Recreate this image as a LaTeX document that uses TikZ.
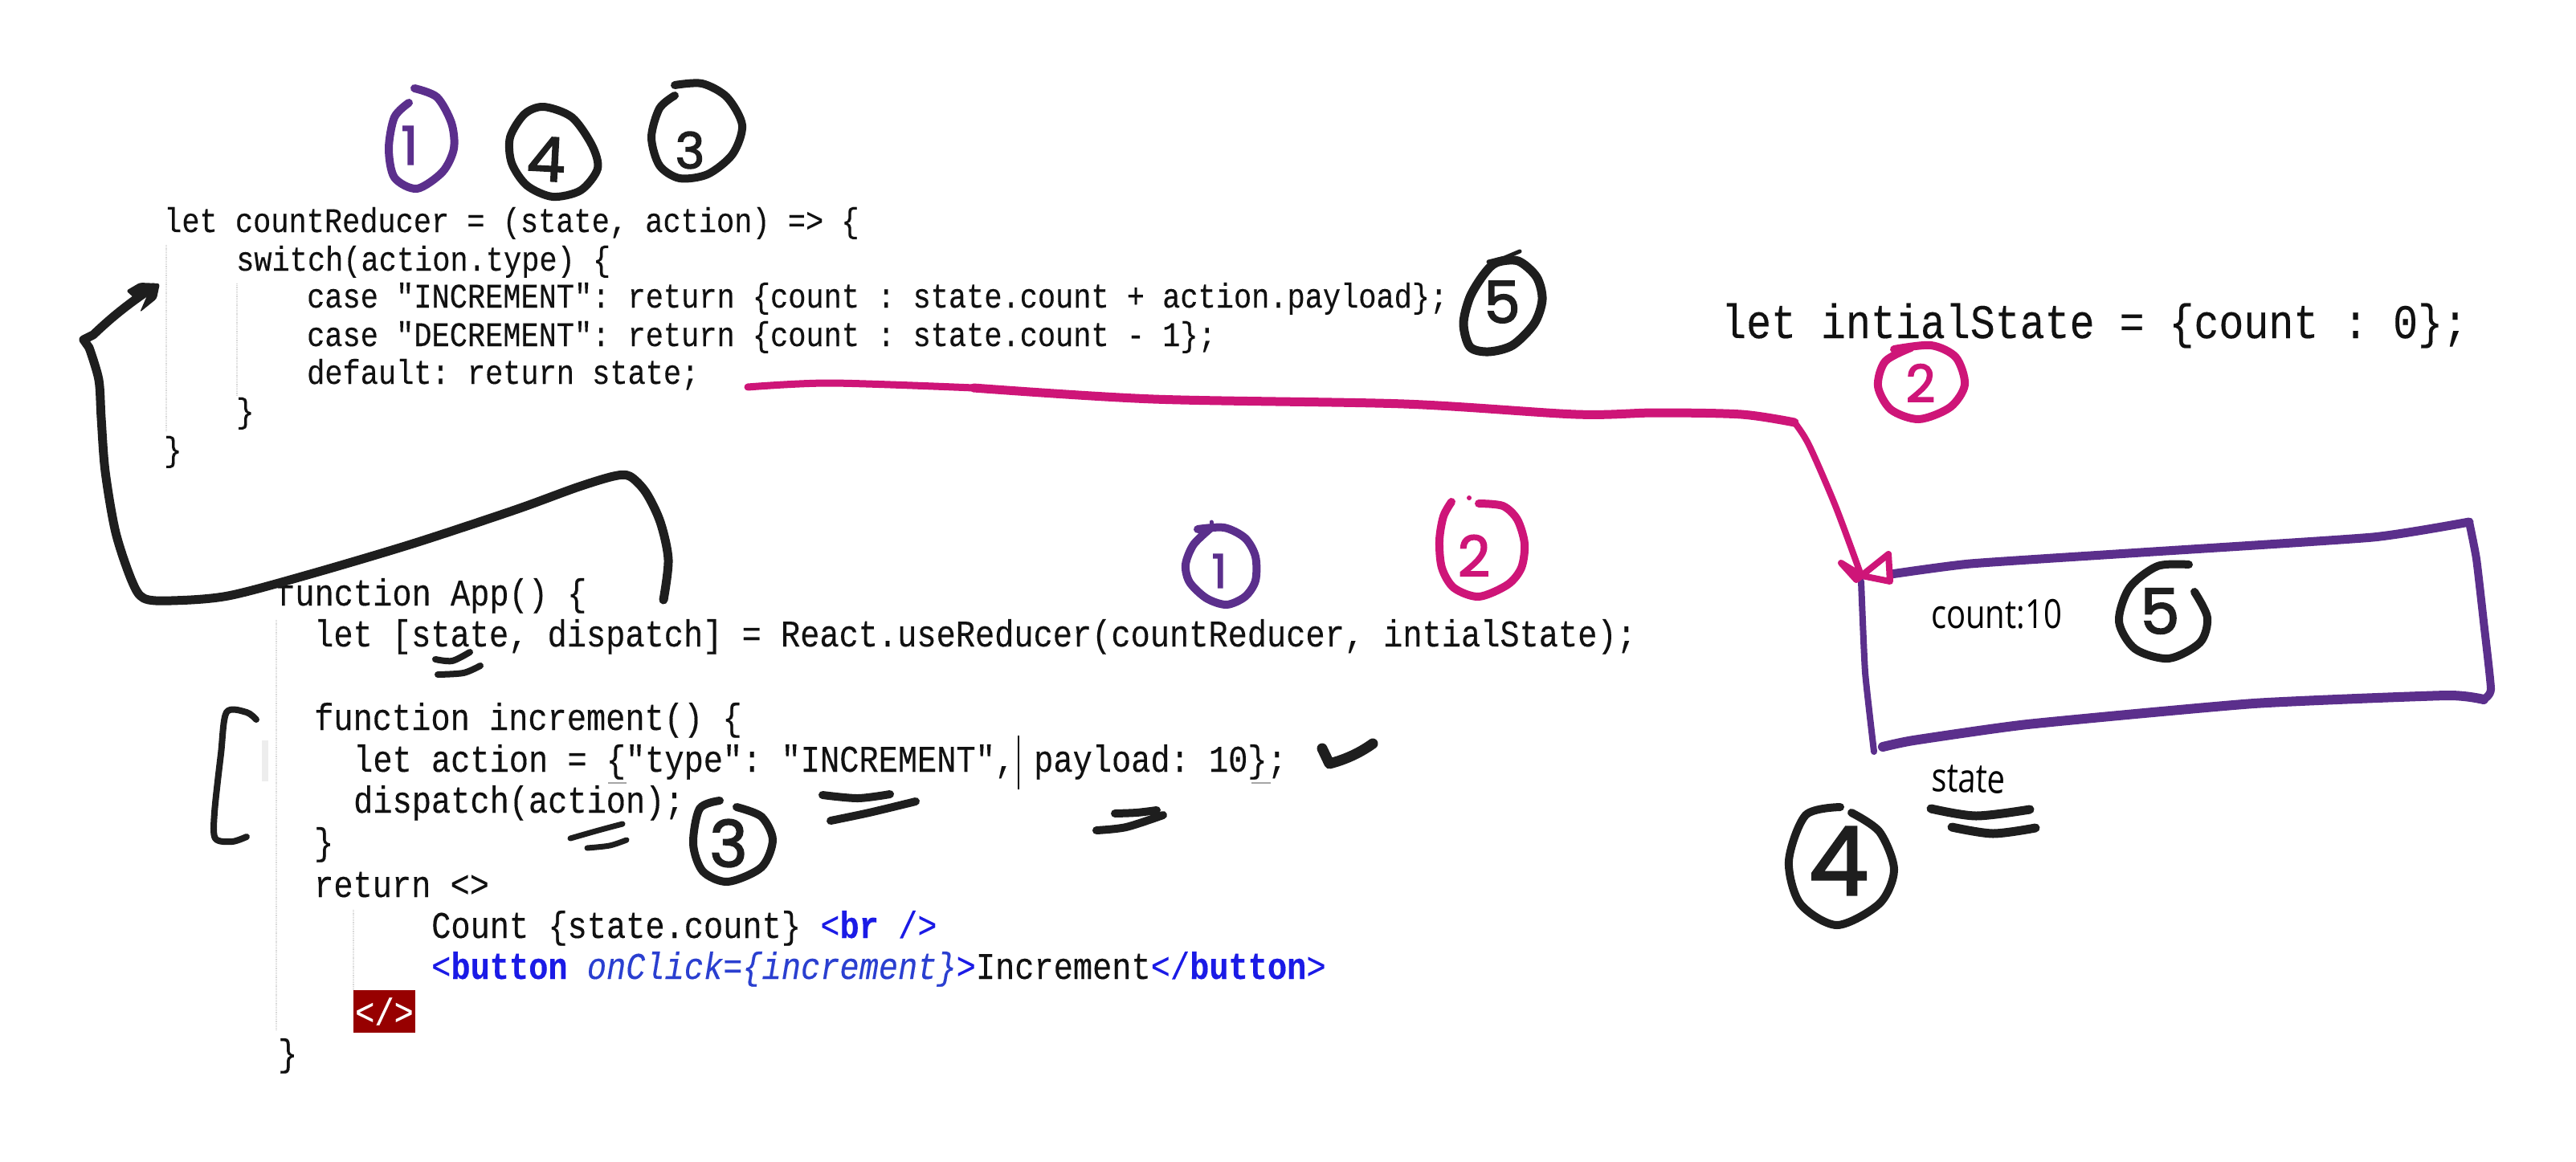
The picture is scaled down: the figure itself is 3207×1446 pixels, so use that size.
\documentclass[tikz,border=0pt]{standalone}
\usepackage{fontspec}
\setmainfont{Liberation Sans}
\newfontfamily\monof[FakeStretch=0.86,FakeBold=0.25]{Liberation Mono}
\newfontfamily\penf[FakeBold=2.4]{Poppins}
\newfontfamily\handf[FakeStretch=0.8]{Open Sans}
\newcommand{\fsz}[1]{\fontsize{#1pt}{#1pt}\selectfont}
\newcommand{\bl}[1]{\textcolor{tagblue}{#1}}
\newcommand{\blb}[1]{\textcolor{tagblue}{\bfseries #1}}
\newcommand{\bli}[1]{\textcolor{attrblue}{\itshape #1}}
\definecolor{ink}{HTML}{1E1E1E}
\definecolor{codeink}{HTML}{111111}
\definecolor{penpurple}{HTML}{5B2F8C}
\definecolor{penpink}{HTML}{CE1578}
\definecolor{tagblue}{HTML}{1A1AE6}
\definecolor{attrblue}{HTML}{2A3FD0}
\definecolor{tagred}{HTML}{970000}
\definecolor{guidegray}{HTML}{D8D8D8}
\tikzset{
  codeA/.style={inner sep=0pt,anchor=base west,text=codeink,font=\monof\frenchspacing\fsz{43}},
  codeB/.style={inner sep=0pt,anchor=base west,text=codeink,font=\monof\frenchspacing\fsz{46.9}},
  codeC/.style={inner sep=0pt,anchor=base west,text=codeink,font=\monof\frenchspacing\fsz{60}},
  hand/.style={inner sep=0pt,text=black,font=\handf\fsz{#1}},
  digit/.style={inner sep=0pt,font=\penf\fsz{#1}},
  guide/.style={guidegray,line width=1.2pt,densely dotted},
  pen/.style={line width=#1,line cap=round,line join=round},
  blackpen/.style={pen=#1,ink},
  purplepen/.style={pen=#1,penpurple},
  pinkpen/.style={pen=#1,penpink},
}
\begin{document}
\begin{tikzpicture}[x=1pt,y=-1pt]
\useasboundingbox[fill=white] (0,0) rectangle (3207,1446);

% indent guides and editor marks
\draw[guide] (207,305) -- (207,538);
\draw[guide] (295,353) -- (295,492);
\draw[guide] (344,772) -- (344,1283);
\draw[guide] (440,1133) -- (440,1233);
\fill[black!7] (326,922) rectangle (334,973);
\draw[gray!70,line width=2pt] (757,975) -- (780,975);
\draw[gray!70,line width=2pt] (1558,975) -- (1582,975);

% reducer code
\node (r1) [codeA] at (204,289) {let countReducer = (state, action) => \{};
\node (r2) [codeA] at (294,337) {switch(action.type) \{};
\node (r3) [codeA] at (382,383) {case "INCREMENT": return \{count : state.count + action.payload\};};
\node (r4) [codeA] at (382,431) {case "DECREMENT": return \{count : state.count - 1\};};
\node (r5) [codeA] at (382,478) {default: return state;};
\node (r6) [codeA] at (294,526) {\}};
\node (r7) [codeA] at (204,574) {\}};

% initial state
\node (init) [codeC] at (2143,421) {let intialState = \{count : 0\};};

% App code
\node (a1) [codeB] at (343,754) {function App() \{};
\node (a2) [codeB] at (391,805) {let [state, dispatch] = React.useReducer(countReducer, intialState);};
\node (a3) [codeB] at (391,909) {function increment() \{};
\node (a4) [codeB] at (440,961) {let action = \{"type": "INCREMENT", payload: 10\};};
\node (a5) [codeB] at (440,1012) {dispatch(action);};
\node (a6) [codeB] at (391,1064) {\}};
\node (a7) [codeB] at (391,1117) {return <>};
\node (a8) [codeB] at (537,1168) {Count \{state.count\} \bl{<}\blb{br} \bl{/>}};
\node (a9) [codeB] at (537,1219) {\bl{<}\blb{button} \bli{onClick=\{increment\}}\bl{>}Increment\bl{</}\blb{button}\bl{>}};
\node (a10) [inner sep=0pt,fill=tagred,text=white,minimum width=77pt,minimum height=53pt,font=\monof\fsz{46.9}] at (478.5,1259.5) {</>};
\node (a11) [codeB] at (346,1327) {\}};
\draw[black,line width=2.6pt] (1268,916) -- (1268,983);

% purple 1, top
\draw[purplepen=10pt] plot[smooth] coordinates {(516,110) (544,121) (562,153) (565,185) (551,214) (519,235) (491,221) (484,185) (491,146) (509,128)};
\node (t1) [digit=66,text=penpurple] at (510,181) {1};
% black 4, top
\draw[blackpen=10pt] plot[smooth cycle] coordinates {(677,133) (712,146) (737,181) (744,210) (723,237) (688,245) (656,231) (637,203) (635,171) (653,142)};
\node (t4) [digit=76,text=ink,rotate=-3] at (680,198) {4};
% black 3, top
\draw[blackpen=10pt] plot[smooth] coordinates {(840,106) (874,104) (905,121) (924,156) (912,192) (881,217) (846,222) (821,206) (811,171) (821,135) (840,119)};
\node (t3) [digit=62,text=ink] at (859,187) {3};
% black 5 beside the reducer
\draw[blackpen=5pt] (1853,326) -- (1873,321) -- (1892,313);
\draw[blackpen=11pt] plot[smooth cycle] coordinates {(1863,327) (1890,325) (1913,345) (1920,373) (1910,403) (1883,430) (1853,438) (1830,432) (1822,403) (1830,370) (1847,342)};
\node (t5) [digit=72,text=ink] at (1870,376) {5};

% purple 1 above the reducer argument
\draw[purplepen=5pt] (1491,659) -- (1508,657);
\draw[purplepen=5pt] (1508,657) -- (1508,650);
\draw[purplepen=10pt] plot[smooth] coordinates {(1491,659) (1524,657) (1550,670) (1563,693) (1563,723) (1550,743) (1527,753) (1502,745) (1481,725) (1476,703) (1486,678) (1508,657)};
\node (m1) [digit=58,text=penpurple] at (1518,711) {1};
% pink 2 above the initial state argument
\draw[pinkpen=10pt] plot[smooth] coordinates {(1841,627) (1871,630) (1889,647) (1898,677) (1894,707) (1877,728) (1841,743) (1810,732) (1795,707) (1792,673) (1797,643) (1807,625)};
\fill[penpink] (1829,620) circle (3pt);
\node (m2) [digit=70,text=penpink] at (1835,692) {2};
% check mark
\draw[blackpen=13pt] (1646,932) -- (1655,951) .. controls (1678,945) and (1695,936) .. (1709,926);

% strokes under code
\draw[blackpen=8pt] plot[smooth] coordinates {(542,821) (563,823) (585,812)};
\draw[blackpen=8pt] plot[smooth] coordinates {(545,840) (577,838) (598,829)};
\draw[blackpen=7pt] plot[smooth] coordinates {(710,1044) (745,1034) (775,1026)};
\draw[blackpen=7pt] plot[smooth] coordinates {(731,1056) (759,1053) (780,1046)};
\draw[blackpen=10pt] plot[smooth] coordinates {(1024,990) (1068,994) (1108,989)};
\draw[blackpen=10pt] plot[smooth] coordinates {(1034,1022) (1082,1012) (1140,998)};
\draw[blackpen=10pt] plot[smooth] coordinates {(1388,1013) (1415,1012) (1440,1009)};
\draw[blackpen=10pt] plot[smooth] coordinates {(1365,1034) (1402,1030) (1448,1015)};

% bracket
\draw[blackpen=8pt] plot[smooth] coordinates {(319,896) (307,887) (282,887) (275,939) (267,1012) (268,1044) (289,1048) (307,1042)};

% black 3 beside dispatch
\draw[blackpen=10pt] plot[smooth] coordinates {(896,997) (871,1007) (863,1051) (875,1085) (906,1098) (948,1080) (962,1046) (948,1017) (917,1005)};
\node (b3) [digit=80,text=ink] at (907,1050) {3};

% arrow App -> reducer
\coordinate (append) at (826,747);
\coordinate (reducerhead) at (190,358);
\draw[blackpen=11pt] plot[smooth,tension=0.5] coordinates {(append) (832,697) (822,650) (804,613) (784,593) (764,593) (718,607) (641,635) (514,677) (386,715) (284,742) (213,748) (179,745) (164,723) (144,663) (131,587) (126,520) (123,473) (111,433)};
\draw[blackpen=11pt] (111,433) -- (104,423) -- (116,417) .. controls (132,402) and (150,385) .. (reducerhead);
\fill[ink,rounded corners=3pt] (157,362) -- (174,352) -- (199,353) -- (195,372) -- (174,389) -- (184,366) -- (168,372) -- cycle;

% pink arrow reducer -> box
\coordinate (defaultend) at (931,482);
\coordinate (boxcorner) at (2315,711);
\draw[pinkpen=9pt] plot[smooth] coordinates {(defaultend) (1034,477) (1212,483)};
\draw[pinkpen=11pt] plot[smooth] coordinates {(1212,483) (1436,497) (1748,503) (1962,516) (2061,514) (2168,516) (2234,526)};
\draw[pinkpen=8pt] plot[smooth] coordinates {(2234,526) (2252,554) (2285,630) (boxcorner)};
% state box
\draw[purplepen=11pt] plot[smooth,tension=0.3] coordinates {(2354,715) (2453,702) (2665,688) (2954,669) (3074,650)};
\draw[purplepen=10pt] plot[smooth,tension=0.3] coordinates {(3074,650) (3083,696) (3092,774) (3101,858) (3092,871)};
\draw[purplepen=12pt] plot[smooth,tension=0.3] coordinates {(3092,871) (3046,866) (2806,876) (2524,902) (2382,922) (2344,930)};
\draw[purplepen=8pt] plot[smooth,tension=0.3] coordinates {(2317,724) (2322,837) (2333,936)};
\draw[pinkpen=8pt] (2292,701) -- (2311,722) -- (2351,690) -- (2353,724) -- (2318,717) -- cycle;

% box contents
\node (cnt) [hand=50,anchor=base west] at (2404,782) {count:10};
\draw[blackpen=10pt] plot[smooth] coordinates {(2725,703) (2686,705) (2651,732) (2638,774) (2658,808) (2700,820) (2739,800) (2748,769) (2732,737)};
\node (bx5) [digit=78,text=ink] at (2689,761) {5};

% pink 2 under initial state
\draw[pinkpen=10pt] plot[smooth] coordinates {(2358,435) (2404,430) (2435,445) (2446,479) (2428,507) (2389,522) (2354,510) (2338,481) (2347,450) (2379,433)};
\node (is2) [digit=64,text=penpink] at (2391,477) {2};

% state label
\node (st) [hand=50,anchor=base west,rotate=-2] at (2404,985) {state};
\draw[blackpen=11pt] plot[smooth] coordinates {(2404,1007) (2460,1016) (2527,1008)};
\draw[blackpen=11pt] plot[smooth] coordinates {(2430,1030) (2481,1038) (2534,1031)};
% black 4 bottom
\draw[blackpen=10pt] plot[smooth] coordinates {(2291,1005) (2248,1015) (2227,1072) (2241,1125) (2287,1152) (2340,1125) (2358,1083) (2340,1036) (2305,1012)};
\node (bt4) [digit=118,text=ink] at (2289,1072) {4};
\end{tikzpicture}
\end{document}
